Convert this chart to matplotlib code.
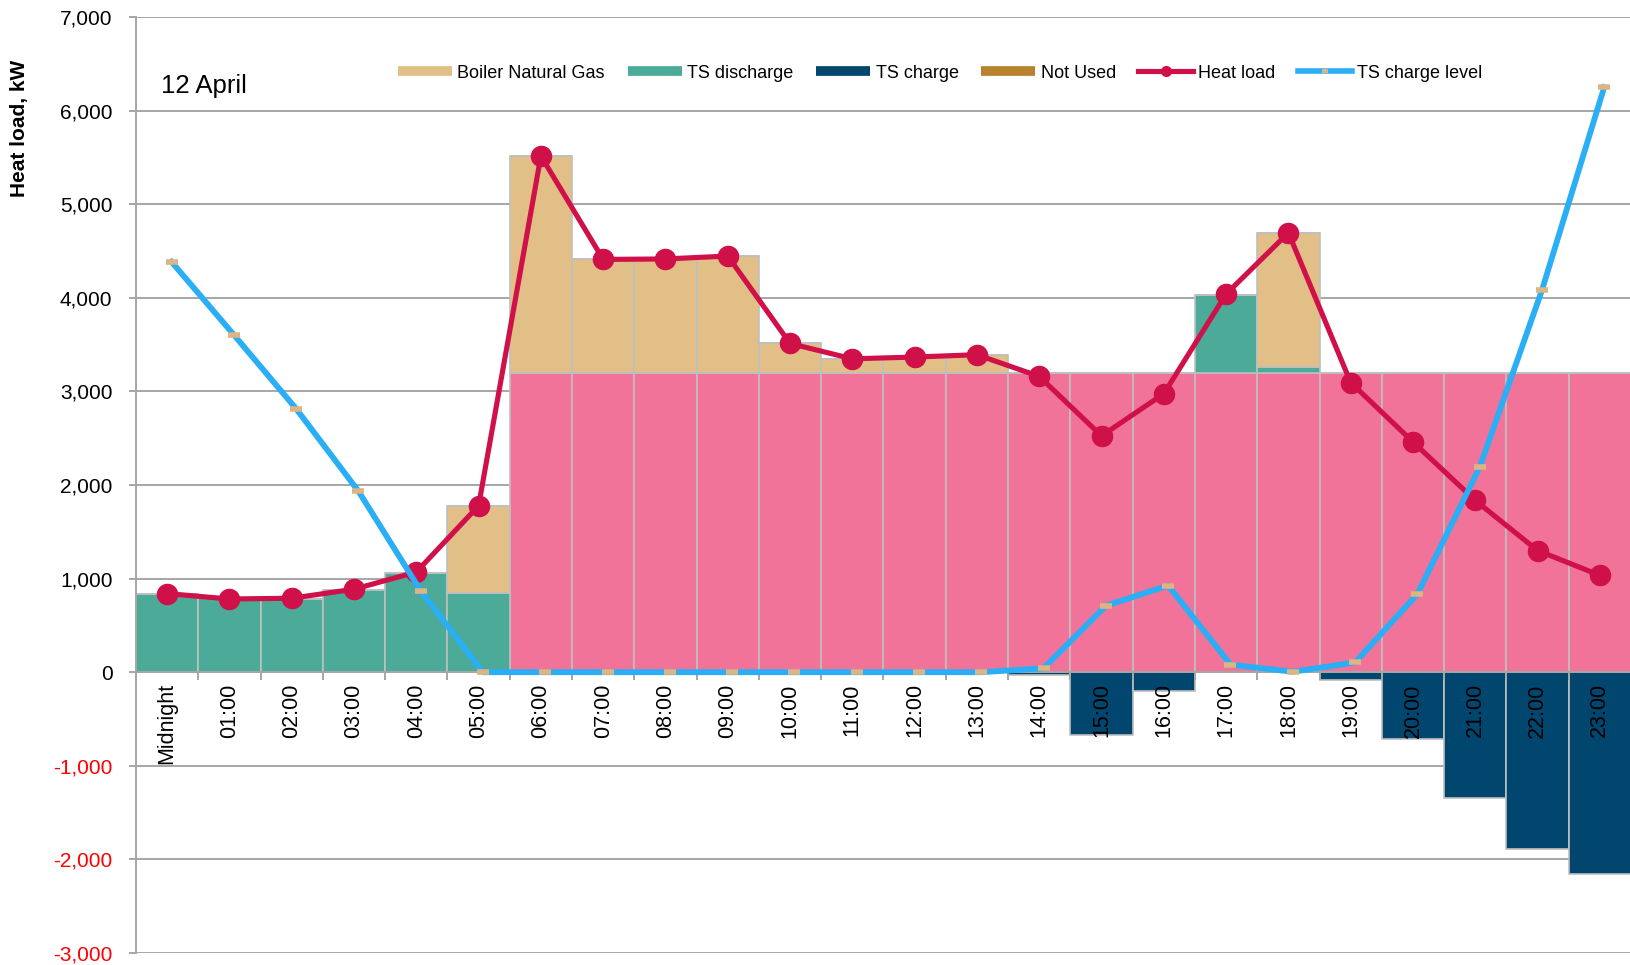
import numpy as np
import matplotlib.pyplot as plt
from matplotlib.lines import Line2D

plt.rcParams['font.family'] = ['Liberation Sans', 'DejaVu Sans']

hours = ["Midnight", "01:00", "02:00", "03:00", "04:00", "05:00", "06:00", "07:00",
         "08:00", "09:00", "10:00", "11:00", "12:00", "13:00", "14:00", "15:00",
         "16:00", "17:00", "18:00", "19:00", "20:00", "21:00", "22:00", "23:00"]

# base supply (pink, no legend entry), kW
base_supply = [0, 0, 0, 0, 0, 0, 3200, 3200, 3200, 3200, 3200, 3200,
               3200, 3200, 3200, 3200, 3200, 3200, 3200, 3200, 3200, 3200, 3200, 3200]
ts_discharge = [835, 790, 787, 883, 1065, 850, 0, 0, 0, 0, 0, 0,
                0, 0, 0, 0, 0, 835, 60, 0, 0, 0, 0, 0]
boiler_gas = [0, 0, 0, 0, 0, 930, 2315, 1212, 1215, 1246, 312, 150,
              165, 190, 0, 0, 0, 0, 1430, 0, 0, 0, 0, 0]
not_used = [0] * 24
ts_charge = [0, 0, 0, 0, 0, 0, 0, 0, 0, 0, 0, 0,
             0, 0, -25, -667, -200, 0, 0, -85, -716, -1339, -1884, -2151]
heat_load = [840, 782, 790, 887, 1070, 1778, 5515, 4410, 4415, 4446, 3512, 3348,
             3367, 3392, 3160, 2525, 2975, 4040, 4695, 3095, 2460, 1835, 1300, 1035]
ts_level = [4385, 3605, 2815, 1935, 870, 0, 0, 0, 0, 0, 0, 0,
            0, 0, 42, 710, 926, 82, 5, 104, 835, 2190, 4080, 6250]

pink = '#F27399'
teal = '#4BAB98'
tan = '#E2BF86'
navy = '#00466F'
brown = '#B8822E'
red = '#D01048'
blue = '#2AAEF5'
dash = '#DDB483'
edge = '#BFBFBF'
gray = '#A6A6A6'

fig = plt.figure(figsize=(16.31, 9.65), dpi=100)
ax = fig.add_axes([136 / 1631, 1 - 953 / 965, 1 - 136 / 1631, 936 / 965])

x = np.arange(len(hours))
base = np.array(base_supply)
dis = np.array(ts_discharge)
boil = np.array(boiler_gas)

bar_kw = dict(width=1.0, edgecolor=edge, linewidth=1.2)
ax.bar(x, base, color=pink, **bar_kw)
ax.bar(x, dis, bottom=base, color=teal, **bar_kw)
ax.bar(x, boil, bottom=base + dis, color=tan, **bar_kw)
ax.bar(x, not_used, bottom=base + dis + boil, color=brown, **bar_kw)
ax.bar(x, ts_charge, color=navy, **bar_kw)

ax.plot(x, heat_load, color=red, lw=3.7, marker='o', ms=14.5, zorder=5)
# excel puts this series a touch to the right
ax.plot(x + 0.07, ts_level, color=blue, lw=4.2, marker='_', ms=8, mew=4,
        mec=dash, zorder=6)

ax.set_xlim(-0.5, len(hours) - 0.5)
ax.set_ylim(-3000, 7000)

yticks = np.arange(-3000, 7001, 1000)
ax.set_yticks(yticks, [f"{t:,}" for t in yticks])
for lbl, t in zip(ax.get_yticklabels(), yticks):
    if t < 0:
        lbl.set_color('#FF0000')
ax.tick_params(axis='y', length=5, width=1.4, color=gray, pad=12, labelsize=15)

ax.set_xticks(x, hours)
ax.set_xticks(np.arange(-0.5, len(hours), 1), minor=True)
ax.tick_params(axis='x', which='major', length=0, pad=8, labelsize=15.5,
               labelrotation=90)
ax.tick_params(axis='x', which='minor', length=6, width=1.4, color=gray)

ax.grid(axis='y', color=gray, lw=1.4)
ax.set_axisbelow(True)
ax.xaxis.set_zorder(4)

ax.spines['top'].set_visible(False)
ax.spines['right'].set_visible(False)
ax.spines['left'].set_color(gray)
ax.spines['left'].set_linewidth(1.4)
ax.spines['bottom'].set_position(('data', 0))
ax.spines['bottom'].set_color(gray)
ax.spines['bottom'].set_linewidth(1.4)

handles = [
    Line2D([], [], color=tan, lw=7, solid_capstyle='butt'),
    Line2D([], [], color=teal, lw=7, solid_capstyle='butt'),
    Line2D([], [], color=navy, lw=7, solid_capstyle='butt'),
    Line2D([], [], color=brown, lw=7, solid_capstyle='butt'),
    Line2D([], [], color=red, lw=3.7, marker='o', ms=7),
    Line2D([], [], color=blue, lw=4, marker='_', ms=4, mew=3, mec=dash),
]
labels = ["Boiler Natural Gas", "TS discharge", "TS charge", "Not Used",
          "Heat load", "TS charge level"]
ax.legend(handles, labels, ncol=6, loc='center', bbox_to_anchor=(0.538, 0.94),
          frameon=False, fontsize=13, handlelength=3.0, handletextpad=0.3,
          columnspacing=1.25)

fig.text(161 / 1631, 1 - 86 / 965, "12 April", fontsize=18.5, va='center')
fig.text(20 / 1631, 1 - 128 / 965, "Heat load, kW", rotation=90, fontsize=15,
         fontweight='bold', ha='center', va='center')

fig.savefig('out.png', dpi=100)
